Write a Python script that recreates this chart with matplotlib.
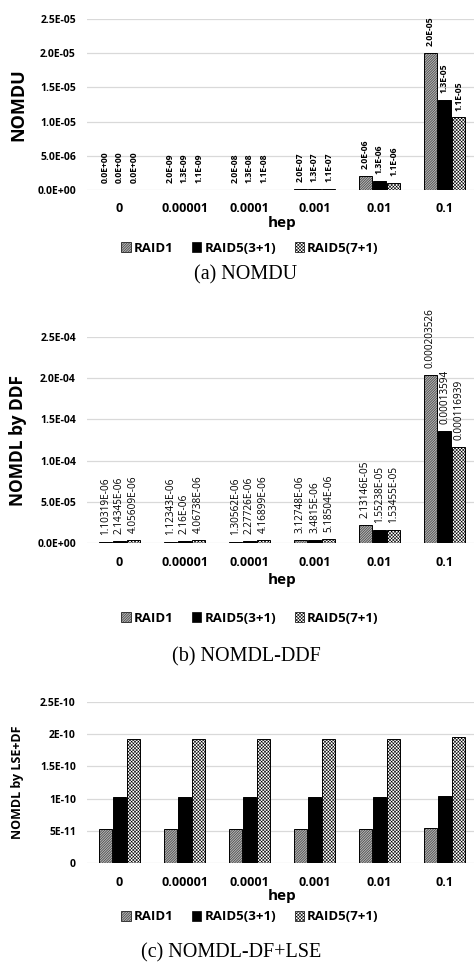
import numpy as np
import matplotlib
matplotlib.use('Agg')
import matplotlib.pyplot as plt
from matplotlib.patches import Patch

plt.rcParams['font.family'] = ['Open Sans', 'DejaVu Sans']
plt.rcParams['hatch.linewidth'] = 0.4

hep = ['0', '0.00001', '0.0001', '0.001', '0.01', '0.1']
series = ['RAID1', 'RAID5(3+1)', 'RAID5(7+1)']

# (a) NOMDU
nomdu_raid1 = [0.0, 2.0e-09, 2.0e-08, 2.0e-07, 2.0e-06, 2.0e-05]
nomdu_raid5_3 = [0.0, 1.32e-09, 1.32e-08, 1.32e-07, 1.32e-06, 1.32e-05]
nomdu_raid5_7 = [0.0, 1.06e-09, 1.06e-08, 1.06e-07, 1.06e-06, 1.06e-05]

# (b) NOMDL by DDF
ddf_raid1 = [1.10319e-06, 1.12343e-06, 1.30562e-06, 3.12748e-06, 2.13146e-05, 0.000203526]
ddf_raid5_3 = [2.14345e-06, 2.16e-06, 2.27726e-06, 3.4815e-06, 1.55238e-05, 0.00013594]
ddf_raid5_7 = [4.05609e-06, 4.06738e-06, 4.16899e-06, 5.18504e-06, 1.53455e-05, 0.000116939]

# (c) NOMDL by LSE+DF
lse_raid1 = [5.3e-11, 5.3e-11, 5.3e-11, 5.3e-11, 5.3e-11, 5.4e-11]
lse_raid5_3 = [1.03e-10, 1.03e-10, 1.03e-10, 1.03e-10, 1.03e-10, 1.04e-10]
lse_raid5_7 = [1.93e-10, 1.93e-10, 1.93e-10, 1.93e-10, 1.93e-10, 1.95e-10]

W, H = 474, 967
styles = [dict(facecolor='white', hatch='/' * 20),
          dict(facecolor='black', hatch=None),
          dict(facecolor='white', hatch='x' * 10)]


def box(left, top, right, bottom):
    return [left / W, 1 - bottom / H, (right - left) / W, (bottom - top) / H]


def panel(fig, rect, data, ymax, yticks, yticklabels, ylabel, ylfs,
          labelfmt, labelbold, labelfs, hep_y, legend_y, caption, cap_x, cap_y):
    ax = fig.add_axes(box(*rect))
    x = np.arange(len(hep))
    step, width = 0.22, 0.2
    for i, vals in enumerate(data):
        bars = ax.bar(x + (i - 1) * step, vals, width, edgecolor='black',
                      linewidth=0.7, zorder=3, **styles[i])
        if labelfmt is not None:
            for b, v in zip(bars, vals):
                ax.annotate(labelfmt(v), (b.get_x() + b.get_width() / 2, v),
                            xytext=(0, 5), textcoords='offset points',
                            rotation=90, ha='center', va='bottom',
                            fontsize=labelfs,
                            fontweight='bold' if labelbold else 'normal',
                            annotation_clip=False)
    ax.set_xlim(-0.5, len(hep) - 0.5)
    ax.set_ylim(0, ymax)
    ax.set_yticks(yticks)
    ax.set_yticklabels(yticklabels)
    ax.set_xticks(x)
    ax.set_xticklabels(hep)
    for s in ax.spines.values():
        s.set_visible(False)
    ax.grid(axis='y', color='#d9d9d9', linewidth=0.9, zorder=0)
    ax.tick_params(length=0, labelsize=7.5, pad=8)
    ax.tick_params(axis='x', labelsize=9, pad=9)
    for t in ax.get_xticklabels() + ax.get_yticklabels():
        t.set_fontweight('bold')
    ax.set_xlabel('hep', fontsize=11, fontweight='bold', va='center')
    h = rect[3] - rect[1]
    ax.xaxis.set_label_coords(0.5, -(hep_y - rect[3]) / h)
    ax.set_ylabel(ylabel, fontsize=ylfs, fontweight='bold', va='center')
    ax.yaxis.set_label_coords((18 - rect[0]) / (rect[2] - rect[0]), 0.5)
    handles = [Patch(edgecolor='black', linewidth=0.5, label=s, **st)
               for s, st in zip(series, styles)]
    fig.legend(handles=handles, ncol=3, loc='center', frameon=False,
               bbox_to_anchor=(250 / W, 1 - legend_y / H),
               prop=dict(size=9.5, weight='bold'), handlelength=0.7,
               handleheight=0.7, handletextpad=0.25, columnspacing=1.4)
    fig.text(cap_x / W, 1 - cap_y / H, caption, ha='center', va='center',
             fontsize=14.5, family='Liberation Serif')
    return ax


fig = plt.figure(figsize=(W / 100, H / 100), dpi=100)

panel(fig, (87, 19, 477, 190), [nomdu_raid1, nomdu_raid5_3, nomdu_raid5_7],
      2.5e-05, np.arange(0, 2.6e-05, 5e-06),
      ['0.0E+00', '5.0E-06', '1.0E-05', '1.5E-05', '2.0E-05', '2.5E-05'],
      'NOMDU', 13, lambda v: '%.1E' % v, True, 6.2, 223, 248,
      '(a) NOMDU', 246, 275)

panel(fig, (87, 337, 477, 543), [ddf_raid1, ddf_raid5_3, ddf_raid5_7],
      2.5e-04, np.arange(0, 2.6e-04, 5e-05),
      ['0.0E+00', '5.0E-05', '1.0E-04', '1.5E-04', '2.0E-04', '2.5E-04'],
      'NOMDL by DDF', 12.5, lambda v: repr(v).upper(), False, 7.2, 580, 618,
      '(b) NOMDL-DDF', 246, 657)

panel(fig, (87, 702, 477, 863), [lse_raid1, lse_raid5_3, lse_raid5_7],
      2.5e-10, np.arange(0, 2.6e-10, 5e-11),
      ['0', '5E-11', '1E-10', '1.5E-10', '2E-10', '2.5E-10'],
      'NOMDL by LSE+DF', 9, None, False, 6, 896, 917,
      '(c) NOMDL-DF+LSE', 231, 953)

fig.savefig('out.png', dpi=100)
